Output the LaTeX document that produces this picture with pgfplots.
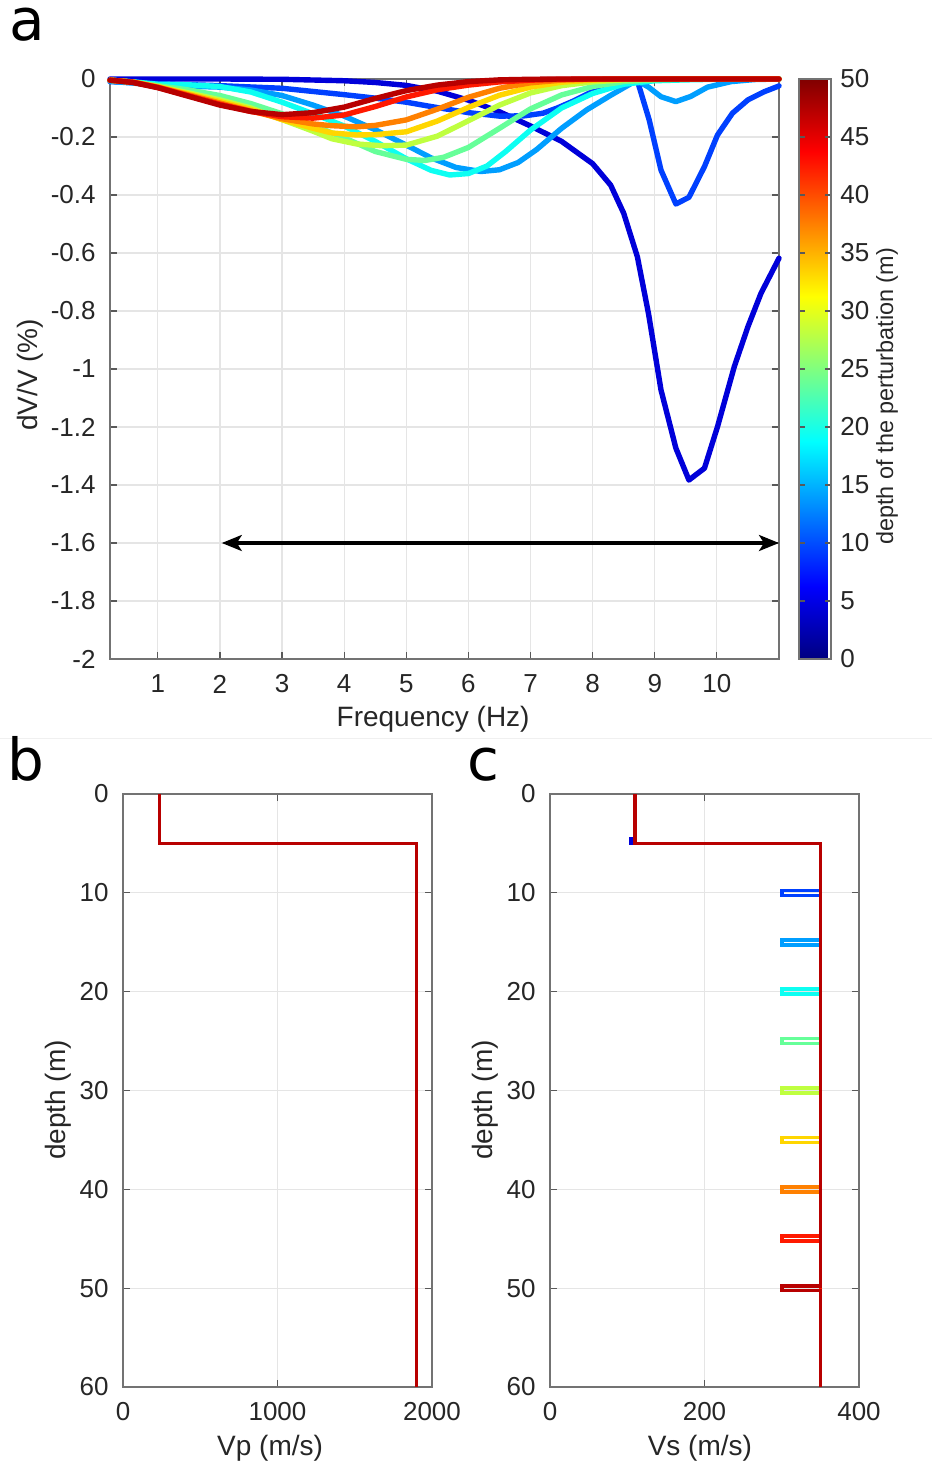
\documentclass[border=0pt]{standalone}
\usepackage{fontspec}
\setmainfont{Liberation Sans}
\newfontfamily\dejavu{DejaVu Sans}
\usepackage{pgfplots}
\pgfplotsset{compat=1.18}
\usetikzlibrary{arrows.meta}

\definecolor{cA}{rgb}{0,0,0.85}
\definecolor{cB}{rgb}{0,0.25,1}
\definecolor{cC}{rgb}{0,0.62,1}
\definecolor{cD}{rgb}{0.05,1,0.95}
\definecolor{cE}{rgb}{0.4,1,0.6}
\definecolor{cF}{rgb}{0.75,1,0.25}
\definecolor{cG}{rgb}{1,0.84,0}
\definecolor{cH}{rgb}{1,0.5,0}
\definecolor{cI}{rgb}{1,0.1,0}
\definecolor{cJ}{rgb}{0.72,0,0}
\definecolor{txt}{rgb}{0.15,0.15,0.15}

\pgfplotsset{
  mystyle/.style={
    scale only axis,
    clip=false,
    axis line style={draw=black!55, line width=0.6pt},
    tick style={draw=black!65, line width=0.6pt},
    major tick length=3.5pt,
    tick align=inside,
    grid=major,
    major grid style={draw=black!10, line width=0.6pt},
    tick label style={font=\fontsize{13}{15}\selectfont, text=txt, inner sep=0pt},
    label style={font=\fontsize{14}{16}\selectfont, text=txt},
    xticklabel style={anchor=center, yshift=-12.5pt},
    yticklabel style={anchor=east, xshift=-7pt},
  },
  prof/.style={line width=1.8pt, line join=miter},
}

\begin{document}
\begin{tikzpicture}
\path[use as bounding box] (0,0) rectangle (466pt,-733pt);
\draw[black!6, line width=0.5pt] (0,-369pt) -- (466pt,-369pt);

\node[font=\dejavu\fontsize{29}{30}\selectfont, anchor=base, inner sep=0pt] at (13.5pt,-20.5pt) {a};
\node[font=\dejavu\fontsize{29}{30}\selectfont, anchor=base, inner sep=0pt] at (13pt,-390pt) {b};
\node[font=\dejavu\fontsize{29}{30}\selectfont, anchor=base, inner sep=0pt] at (241.5pt,-390pt) {c};

% ---------------- panel a ----------------
\begin{axis}[mystyle,
  at={(55pt,-39.5pt)}, anchor=north west,
  width=334.5pt, height=290pt,
  xmin=0.23, xmax=11, ymin=-2, ymax=0,
  xtick={1,2,3,4,5,6,7,8,9,10},
  xticklabels={1,2,3,4,5,6,7,8,9,10},
  ytick={-2,-1.8,-1.6,-1.4,-1.2,-1,-0.8,-0.6,-0.4,-0.2,0},
  yticklabels={-2,-1.8,-1.6,-1.4,-1.2,-1,-0.8,-0.6,-0.4,-0.2,0},
  xlabel={Frequency (Hz)}, ylabel={dV/V (\%)},
  xlabel style={at={(axis description cs:0.483,-0.104)}, anchor=center},
  ylabel style={at={(axis description cs:-0.1196,0.49)}, anchor=center},
  colormap/jet, point meta min=0, point meta max=50,
  colorbar,
  colorbar style={
    at={(parent axis.north east)}, anchor=north west, xshift=1.5pt,
    width=16pt,
    axis line style={draw=black!55, line width=0.6pt},
    tick style={draw=black!65, line width=0.6pt},
    major tick length=3pt,
    ytick={0,5,10,15,20,25,30,35,40,45,50},
    yticklabels={0,5,10,15,20,25,30,35,40,45,50},
    yticklabel style={font=\fontsize{13}{15}\selectfont, text=txt, anchor=west, inner sep=0pt, xshift=4.5pt},
    ylabel={depth of the perturbation (m)},
    ylabel style={font=\fontsize{11.7}{14}\selectfont, text=txt, at={(axis description cs:2.75,0.453)}, anchor=center},
  },
  every axis plot/.append style={line width=2.7pt, line join=round, line cap=round},
]
% depth 5
\addplot[cA] coordinates {(0.23,0) (1,0) (2,0) (3,-0.001) (4,-0.006) (4.5,-0.012) (5,-0.022) (5.5,-0.042) (6,-0.073) (6.5,-0.113) (7,-0.162) (7.5,-0.215) (8,-0.292) (8.29,-0.366) (8.5,-0.463) (8.72,-0.613) (8.9,-0.81) (9.1,-1.072) (9.34,-1.273) (9.55,-1.383) (9.8,-1.342) (10.01,-1.199) (10.28,-0.992) (10.5,-0.854) (10.71,-0.739) (11,-0.618)};
% depth 10
\addplot[cB] coordinates {(0.23,-0.009) (1,-0.016) (2,-0.023) (3,-0.032) (4,-0.054) (4.5,-0.066) (5,-0.08) (5.4,-0.095) (6,-0.116) (6.5,-0.128) (6.9,-0.127) (7.2,-0.118) (7.43,-0.1) (7.7,-0.075) (7.97,-0.046) (8.3,-0.025) (8.61,-0.012) (8.72,-0.006) (8.91,-0.141) (9.1,-0.314) (9.34,-0.431) (9.55,-0.408) (9.8,-0.302) (10.01,-0.193) (10.25,-0.118) (10.5,-0.072) (10.76,-0.044) (11,-0.024)};
% depth 15
\addplot[cC] coordinates {(0.23,-0.008) (0.6,-0.014) (1,-0.022) (1.5,-0.025) (2,-0.028) (2.5,-0.038) (3,-0.057) (3.5,-0.09) (4,-0.128) (4.5,-0.175) (5,-0.228) (5.4,-0.272) (5.8,-0.305) (6.2,-0.319) (6.5,-0.313) (6.8,-0.288) (7.1,-0.243) (7.5,-0.17) (7.9,-0.107) (8.3,-0.055) (8.6,-0.018) (8.72,-0.006) (8.9,-0.028) (9.1,-0.061) (9.34,-0.078) (9.58,-0.06) (9.85,-0.028) (10.23,-0.009) (10.6,-0.002) (11,0)};
% depth 20
\addplot[cD] coordinates {(0.23,-0.004) (0.6,-0.01) (1,-0.018) (1.5,-0.02) (2,-0.026) (2.5,-0.045) (3,-0.08) (3.5,-0.12) (4,-0.162) (4.5,-0.215) (5,-0.275) (5.4,-0.315) (5.7,-0.331) (6,-0.326) (6.3,-0.3) (6.6,-0.25) (7,-0.176) (7.5,-0.1) (8,-0.05) (8.5,-0.018) (9,-0.006) (9.5,-0.003) (10,-0.001) (10.5,0) (11,0)};
% depth 25
\addplot[cE] coordinates {(0.23,-0.004) (0.6,-0.01) (1,-0.023) (1.5,-0.038) (2,-0.057) (2.5,-0.085) (3,-0.12) (3.5,-0.16) (4,-0.203) (4.5,-0.25) (5,-0.277) (5.3,-0.281) (5.6,-0.27) (6,-0.236) (6.5,-0.17) (7,-0.103) (7.5,-0.055) (8,-0.026) (8.5,-0.009) (9,-0.003) (9.5,-0.001) (10,0) (11,0)};
% depth 30
\addplot[cF] coordinates {(0.23,-0.004) (0.6,-0.011) (1,-0.026) (1.5,-0.048) (2,-0.072) (2.5,-0.1) (3,-0.14) (3.5,-0.18) (3.8,-0.206) (4.2,-0.224) (4.6,-0.23) (5,-0.228) (5.5,-0.197) (6,-0.144) (6.5,-0.09) (7,-0.048) (7.5,-0.023) (8,-0.01) (8.5,-0.003) (9,-0.001) (9.5,0) (11,0)};
% depth 35
\addplot[cG] coordinates {(0.23,-0.004) (0.6,-0.011) (1,-0.027) (1.5,-0.052) (2,-0.078) (2.5,-0.105) (3,-0.14) (3.5,-0.17) (3.8,-0.186) (4.2,-0.193) (4.5,-0.192) (5,-0.182) (5.5,-0.145) (6,-0.098) (6.5,-0.056) (7,-0.028) (7.5,-0.011) (8,-0.004) (8.5,-0.001) (9,0) (11,0)};
% depth 40
\addplot[cH] coordinates {(0.23,-0.004) (0.6,-0.011) (1,-0.028) (1.5,-0.055) (2,-0.083) (2.5,-0.11) (3,-0.137) (3.5,-0.155) (3.8,-0.161) (4.2,-0.165) (4.5,-0.16) (5,-0.141) (5.5,-0.104) (6,-0.063) (6.5,-0.032) (7,-0.013) (7.5,-0.004) (8,-0.001) (8.5,0) (11,0)};
% depth 45
\addplot[cI] coordinates {(0.23,-0.004) (0.6,-0.011) (1,-0.029) (1.5,-0.058) (2,-0.087) (2.5,-0.112) (3,-0.13) (3.5,-0.135) (4,-0.124) (4.5,-0.095) (5,-0.062) (5.5,-0.037) (6,-0.021) (6.5,-0.01) (7,-0.004) (7.5,-0.001) (8,0) (11,0)};
% depth 50
\addplot[cJ] coordinates {(0.23,-0.004) (0.6,-0.012) (1,-0.03) (1.5,-0.06) (2,-0.09) (2.5,-0.112) (3,-0.123) (3.5,-0.116) (4,-0.097) (4.5,-0.067) (5,-0.04) (5.5,-0.021) (6,-0.009) (6.5,-0.003) (7,-0.001) (7.5,0) (11,0)};
% arrow
\addplot[black, line width=1.6pt, line cap=butt, {Stealth[length=10pt,width=8pt,inset=2.5pt]}-{Stealth[length=10pt,width=8pt,inset=2.5pt]}] coordinates {(2.03,-1.6) (11,-1.6)};
\end{axis}

% ---------------- panel b ----------------
\begin{axis}[mystyle,
  at={(61.5pt,-397pt)}, anchor=north west,
  width=154.5pt, height=296.5pt,
  xmin=0, xmax=2000, ymin=0, ymax=60, y dir=reverse,
  xtick={0,1000,2000}, xticklabels={0,1000,2000},
  ytick={0,10,20,30,40,50,60}, yticklabels={0,10,20,30,40,50,60},
  xlabel={Vp (m/s)}, ylabel={depth (m)},
  xlabel style={at={(axis description cs:0.476,-0.104)}, anchor=center},
  ylabel style={at={(axis description cs:-0.21,0.484)}, anchor=center},
]
\addplot[prof, cJ] coordinates {(235,0) (235,5) (1900,5) (1900,60)};
\end{axis}

% ---------------- panel c ----------------
\begin{axis}[mystyle,
  at={(275pt,-397pt)}, anchor=north west,
  width=154.5pt, height=296.5pt,
  xmin=0, xmax=400, ymin=0, ymax=60, y dir=reverse,
  xtick={0,200,400}, xticklabels={0,200,400},
  ytick={0,10,20,30,40,50,60}, yticklabels={0,10,20,30,40,50,60},
  xlabel={Vs (m/s)}, ylabel={depth (m)},
  xlabel style={at={(axis description cs:0.485,-0.104)}, anchor=center},
  ylabel style={at={(axis description cs:-0.21,0.484)}, anchor=center},
]
\addplot[prof, cA] coordinates {(110,0) (110,4.5) (105,4.5) (105,5) (350,5) (350,60)};
\addplot[prof, cB] coordinates {(110,0) (110,5) (350,5) (350,9.75) (300,9.75) (300,10.25) (350,10.25) (350,60)};
\addplot[prof, cC] coordinates {(110,0) (110,5) (350,5) (350,14.75) (300,14.75) (300,15.25) (350,15.25) (350,60)};
\addplot[prof, cD] coordinates {(110,0) (110,5) (350,5) (350,19.75) (300,19.75) (300,20.25) (350,20.25) (350,60)};
\addplot[prof, cE] coordinates {(110,0) (110,5) (350,5) (350,24.75) (300,24.75) (300,25.25) (350,25.25) (350,60)};
\addplot[prof, cF] coordinates {(110,0) (110,5) (350,5) (350,29.75) (300,29.75) (300,30.25) (350,30.25) (350,60)};
\addplot[prof, cG] coordinates {(110,0) (110,5) (350,5) (350,34.75) (300,34.75) (300,35.25) (350,35.25) (350,60)};
\addplot[prof, cH] coordinates {(110,0) (110,5) (350,5) (350,39.75) (300,39.75) (300,40.25) (350,40.25) (350,60)};
\addplot[prof, cI] coordinates {(110,0) (110,5) (350,5) (350,44.75) (300,44.75) (300,45.25) (350,45.25) (350,60)};
\addplot[prof, cJ] coordinates {(110,0) (110,5) (350,5) (350,49.75) (300,49.75) (300,50.25) (350,50.25) (350,60)};
\end{axis}
\end{tikzpicture}
\end{document}
